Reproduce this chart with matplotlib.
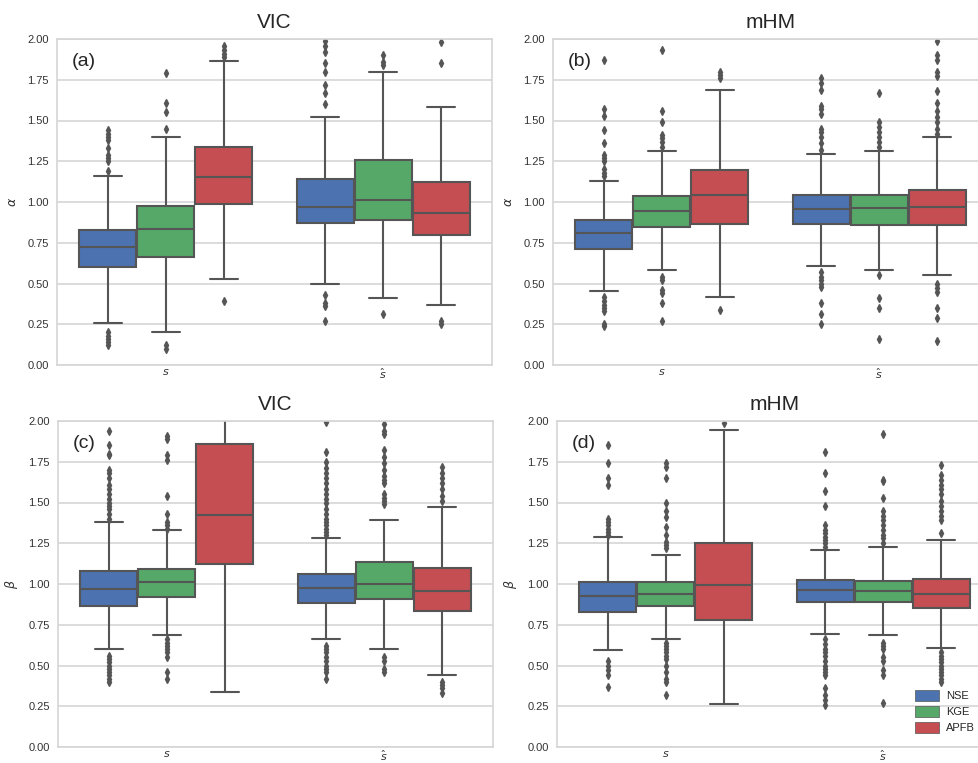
import numpy as np
import matplotlib
matplotlib.use("Agg")
import matplotlib.pyplot as plt
from matplotlib.patches import Patch
import seaborn as sns

sns.set_style("whitegrid")
plt.rcParams['font.family'] = ['Liberation Sans', 'DejaVu Sans']

groups = ["$s$", "$\\hat{s}$"]
metrics = ["NSE", "KGE", "APFB"]
colors = ["#4C72B0", "#55A868", "#C44E52"]

# box stats: (q1, med, q3, whislo, whishi, fliers)
# order: NSE s, KGE s, APFB s, NSE s^, KGE s^, APFB s^
vic_alpha = [
    (0.60, 0.726, 0.83, 0.26, 1.16, [1.19, 1.25, 1.27, 1.29, 1.33, 1.38, 1.40, 1.42, 1.44, 0.20, 0.18, 0.16, 0.14, 0.12]),
    (0.66, 0.836, 0.975, 0.20, 1.40, [1.45, 1.55, 1.61, 1.79, 0.12, 0.10]),
    (0.99, 1.155, 1.34, 0.53, 1.865, [1.89, 1.91, 1.93, 1.96, 0.39]),
    (0.87, 0.97, 1.14, 0.495, 1.52, [1.60, 1.67, 1.72, 1.80, 1.85, 1.92, 1.96, 1.99, 0.43, 0.38, 0.36, 0.27]),
    (0.89, 1.013, 1.255, 0.41, 1.80, [1.84, 1.86, 1.90, 0.31]),
    (0.80, 0.93, 1.12, 0.37, 1.58, [1.85, 1.98, 0.27, 0.25]),
]
mhm_alpha = [
    (0.714, 0.81, 0.89, 0.455, 1.13, [1.16, 1.18, 1.20, 1.25, 1.27, 1.29, 1.36, 1.44, 1.53, 1.57, 1.87,
                                     0.42, 0.39, 0.37, 0.35, 0.33, 0.25, 0.24]),
    (0.846, 0.946, 1.035, 0.58, 1.315, [1.34, 1.37, 1.39, 1.41, 1.49, 1.56, 1.93, 0.54, 0.52, 0.46, 0.44, 0.38, 0.27]),
    (0.866, 1.04, 1.195, 0.42, 1.686, [1.76, 1.78, 1.80, 0.34]),
    (0.862, 0.96, 1.046, 0.607, 1.295, [1.32, 1.36, 1.40, 1.43, 1.45, 1.54, 1.57, 1.59, 1.69, 1.73, 1.76,
                                       0.57, 0.54, 0.52, 0.50, 0.48, 0.38, 0.31, 0.25]),
    (0.856, 0.962, 1.045, 0.583, 1.31, [1.34, 1.37, 1.40, 1.43, 1.46, 1.49, 1.67, 0.55, 0.41, 0.35, 0.16]),
    (0.856, 0.968, 1.076, 0.552, 1.40, [1.42, 1.45, 1.49, 1.52, 1.56, 1.61, 1.68, 1.77, 1.80, 1.87, 1.90, 1.99,
                                       0.50, 0.47, 0.45, 0.35, 0.29, 0.15]),
]
vic_beta = [
    (0.865, 0.97, 1.08, 0.60, 1.378, [1.40, 1.43, 1.46, 1.48, 1.50, 1.52, 1.55, 1.58, 1.61, 1.65, 1.68, 1.70, 1.79,
                                      1.80, 1.85, 1.94, 0.56, 0.54, 0.52, 0.50, 0.48, 0.46, 0.44, 0.42, 0.40]),
    (0.92, 1.014, 1.09, 0.685, 1.33, [1.34, 1.36, 1.38, 1.43, 1.54, 1.76, 1.79, 1.89, 1.91,
                                      0.66, 0.64, 0.62, 0.60, 0.58, 0.55, 0.46, 0.42]),
    (1.123, 1.425, 1.86, 0.335, 2.6, []),
    (0.885, 0.977, 1.063, 0.66, 1.28, [1.30, 1.32, 1.34, 1.36, 1.38, 1.40, 1.43, 1.46, 1.50, 1.52, 1.55, 1.58, 1.62,
                                       1.65, 1.68, 1.71, 1.75, 1.81, 1.995, 0.62, 0.60, 0.58, 0.55, 0.53, 0.50,
                                       0.48, 0.46, 0.42]),
    (0.906, 1.0, 1.135, 0.603, 1.393, [1.49, 1.51, 1.53, 1.55, 1.62, 1.64, 1.66, 1.70, 1.74, 1.78, 1.82, 1.92, 1.94,
                                       1.98, 0.55, 0.53, 0.48, 0.46]),
    (0.832, 0.96, 1.10, 0.44, 1.474, [1.51, 1.54, 1.58, 1.62, 1.65, 1.68, 1.72, 0.40, 0.38, 0.36, 0.33]),
]
mhm_beta = [
    (0.826, 0.924, 1.012, 0.597, 1.286, [1.30, 1.32, 1.34, 1.36, 1.38, 1.40, 1.61, 1.65, 1.74, 1.85,
                                         0.53, 0.50, 0.47, 0.44, 0.37]),
    (0.867, 0.939, 1.01, 0.663, 1.178, [1.22, 1.24, 1.26, 1.30, 1.35, 1.41, 1.45, 1.50, 1.65, 1.72, 1.74,
                                        0.64, 0.62, 0.60, 0.58, 0.56, 0.54, 0.50, 0.46, 0.42, 0.40, 0.32]),
    (0.78, 0.994, 1.25, 0.266, 1.945, [1.99]),
    (0.888, 0.961, 1.025, 0.695, 1.21, [1.23, 1.25, 1.27, 1.29, 1.31, 1.33, 1.36, 1.48, 1.57, 1.68, 1.81,
                                        0.66, 0.63, 0.60, 0.58, 0.56, 0.53, 0.50, 0.48, 0.46, 0.44, 0.36, 0.32,
                                        0.29, 0.26]),
    (0.888, 0.96, 1.02, 0.685, 1.229, [1.25, 1.28, 1.30, 1.33, 1.36, 1.39, 1.42, 1.45, 1.53, 1.63, 1.64, 1.92,
                                       0.64, 0.62, 0.60, 0.55, 0.53, 0.47, 0.44, 0.27]),
    (0.853, 0.94, 1.03, 0.607, 1.27, [1.31, 1.39, 1.42, 1.45, 1.48, 1.51, 1.55, 1.58, 1.61, 1.64, 1.67, 1.73,
                                      0.58, 0.56, 0.54, 0.52, 0.50, 0.48, 0.46, 0.44, 0.42, 0.40]),
]

W, H = 979, 763
fig = plt.figure(figsize=(W / 100, H / 100), dpi=100)

panels = [
    (vic_alpha, "VIC", "(a)", "$\\alpha$", [57, 39]),
    (mhm_alpha, "mHM", "(b)", "$\\alpha$", [553, 39]),
    (vic_beta, "VIC", "(c)", "$\\beta$", [58, 421]),
    (mhm_beta, "mHM", "(d)", "$\\beta$", [557, 421]),
]
aw, ah = 435, 326
gray = "#555555"
bw = 0.8 / 3

for data, title, tag, ylab, (x0, y0) in panels:
    ax = fig.add_axes([x0 / W, 1 - (y0 + ah) / H, aw / W, ah / H])
    stats, pos = [], []
    for i, (q1, med, q3, lo, hi, fl) in enumerate(data):
        g, k = divmod(i, 3)
        stats.append(dict(q1=q1, med=med, q3=q3, whislo=lo, whishi=hi, fliers=fl))
        pos.append(g + (k - 1) * bw)
    bp = ax.bxp(stats, positions=pos, widths=bw * 0.98, patch_artist=True, showfliers=True,
                boxprops=dict(edgecolor=gray, linewidth=1.5),
                whiskerprops=dict(color=gray, linewidth=1.5),
                capprops=dict(color=gray, linewidth=1.5),
                medianprops=dict(color=gray, linewidth=1.5),
                flierprops=dict(marker="d", markersize=4, markerfacecolor=gray,
                                markeredgecolor=gray, linestyle="none"))
    for i, b in enumerate(bp["boxes"]):
        b.set_facecolor(colors[i % 3])
    ax.set_xlim(-0.5, 1.5)
    ax.set_ylim(0, 2.0)
    ax.set_yticks(np.arange(0, 2.01, 0.25))
    ax.set_yticklabels([f"{v:.2f}" for v in np.arange(0, 2.01, 0.25)])
    ax.set_xticks([0, 1])
    ax.set_xticklabels(groups)
    ax.xaxis.grid(False)
    ax.yaxis.grid(True, color="#d5d5d5", linewidth=1.2)
    for s in ax.spines.values():
        s.set_color("#d5d5d5")
        s.set_linewidth(1.2)
    ax.tick_params(axis="y", labelsize=8, colors="#333333", pad=6, length=0)
    ax.tick_params(axis="x", labelsize=8, colors="#333333", pad=1.5, length=0)
    ax.set_ylabel(ylab, fontsize=9, color="#333333", labelpad=6)
    ax.set_title(title, fontsize=15, pad=8)
    ax.text(0.035, 0.93, tag, transform=ax.transAxes, fontsize=14, va="center", ha="left")
    last = ax

handles = [Patch(facecolor=c, edgecolor=gray, linewidth=0.5) for c in colors]
last.legend(handles, metrics, loc="upper left", bbox_to_anchor=(0.812, 0.19), frameon=False,
            fontsize=8, handlelength=2.2, handleheight=1.15, handletextpad=0.6,
            labelspacing=0.45, borderaxespad=0)

fig.savefig("out.png", dpi=100)
